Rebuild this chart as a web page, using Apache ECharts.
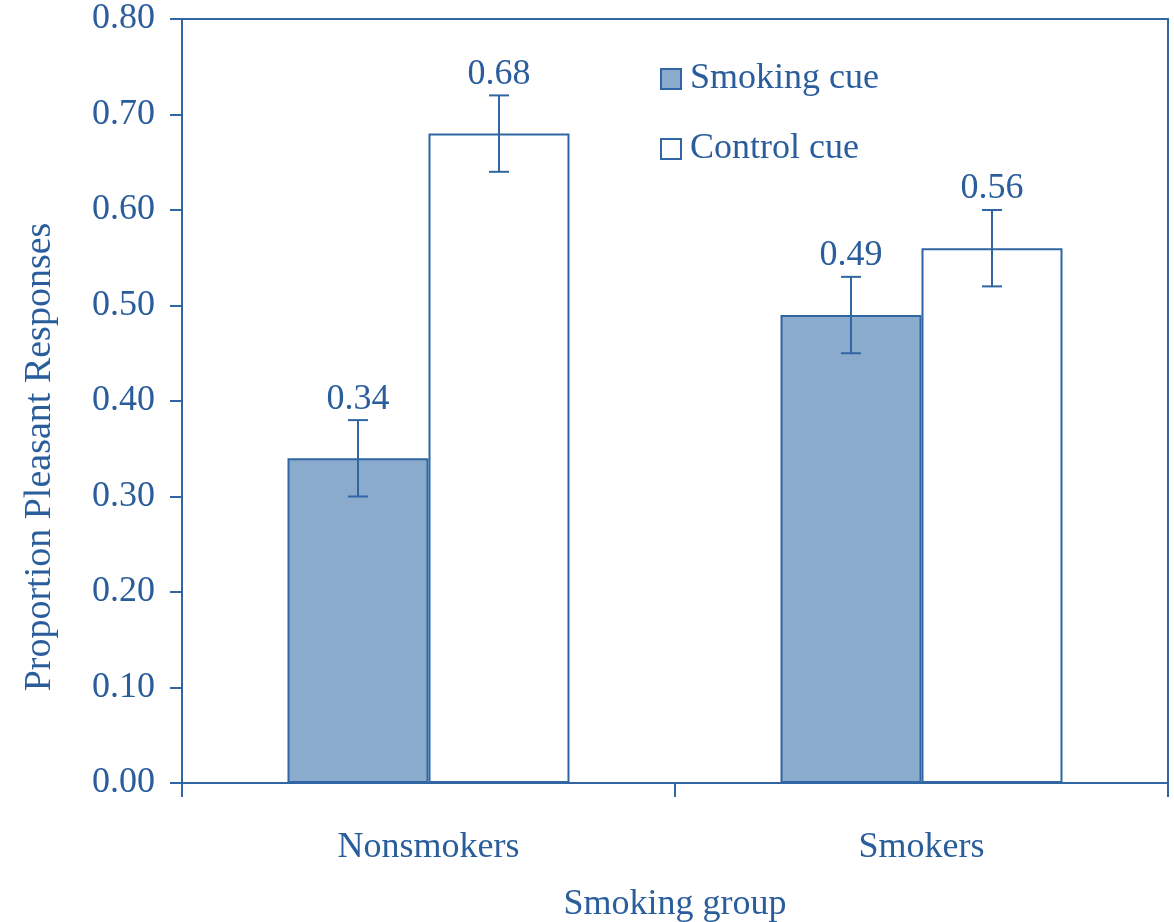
<!DOCTYPE html>
<html><head><meta charset="utf-8">
<script src="https://cdn.jsdelivr.net/npm/echarts@6/dist/echarts.min.js"></script>
<style>html,body{margin:0;padding:0;background:#fff}#c{width:1174px;height:922px}</style>
</head><body><div id="c"></div>
<script>
// ---- data ----
const categories = ['Nonsmokers', 'Smokers'];
const seriesNames = ['Smoking cue', 'Control cue'];
const smokingCue = [0.34, 0.49];
const controlCue = [0.68, 0.56];
const smokingErr = [0.04, 0.04];
const controlErr = [0.04, 0.04];
const yAxisTitle = 'Proportion Pleasant Responses';
const xAxisTitle = 'Smoking group';

// ---- style ----
const TXT = '#2a5d9c';
const LINE = '#2f66a3';
const FILL = '#8aabcb';
const FONT = '"Liberation Serif", "Times New Roman", serif';
const FS = 36;
const BAR_FRAC = 0.286;

function errData(vals, errs) {
  return vals.map((v, i) => [i, v, errs[i]]);
}
function errRenderer(side) {
  return function (params, api) {
    const ci = api.value(0), v = api.value(1), e = api.value(2);
    const band = api.size([1, 0])[0];
    const bw = band * BAR_FRAC;
    const x = api.coord([ci, v])[0] + side * bw / 2;
    const yt = api.coord([ci, v + e])[1];
    const yb = api.coord([ci, v - e])[1];
    const cap = 10;
    const ls = { stroke: LINE, lineWidth: 2 };
    return {
      type: 'group',
      children: [
        { type: 'line', shape: { x1: x, y1: yt, x2: x, y2: yb }, style: ls },
        { type: 'line', shape: { x1: x - cap, y1: yt, x2: x + cap, y2: yt }, style: ls },
        { type: 'line', shape: { x1: x - cap, y1: yb, x2: x + cap, y2: yb }, style: ls },
        { type: 'text', style: { text: v.toFixed(2), x: x, y: yt - 21, align: 'center', verticalAlign: 'middle',
          fill: TXT, fontSize: FS, fontFamily: FONT } }
      ]
    };
  };
}

const chart = echarts.init(document.getElementById('c'));
chart.setOption({
  animation: false,
  backgroundColor: '#fff',
  textStyle: { fontFamily: FONT, color: TXT },
  grid: { left: 182, right: 6, top: 19, bottom: 139, containLabel: false, outerBoundsMode: 'none',
    show: true, borderColor: LINE, borderWidth: 2, backgroundColor: 'transparent' },
  legend: {
    orient: 'vertical', left: 655, top: 56, itemWidth: 20, itemHeight: 20, itemGap: 34,
    textStyle: { fontFamily: FONT, fontSize: FS, color: TXT, padding: [0, 0, 0, 4] },
    data: [
      { name: seriesNames[0], icon: 'rect', itemStyle: { color: FILL, borderColor: LINE, borderWidth: 2 } },
      { name: seriesNames[1], icon: 'rect', itemStyle: { color: '#fff', borderColor: LINE, borderWidth: 2 } }
    ]
  },
  graphic: [{
    type: 'text', x: 40, y: 457, rotation: Math.PI / 2,
    style: { text: yAxisTitle, align: 'center', verticalAlign: 'middle', fill: TXT, fontSize: 38, fontFamily: FONT }
  }],
  xAxis: {
    type: 'category', data: categories,
    name: xAxisTitle, nameLocation: 'middle', nameGap: 104,
    nameTextStyle: { fontFamily: FONT, fontSize: FS, color: TXT },
    axisLine: { lineStyle: { color: LINE, width: 2 } },
    axisTick: { show: true, length: 14, lineStyle: { color: LINE, width: 2 } },
    axisLabel: { margin: 47, fontFamily: FONT, fontSize: FS, color: TXT }
  },
  yAxis: {
    type: 'value', min: 0, max: 0.8, interval: 0.1,
    axisLine: { show: true, lineStyle: { color: LINE, width: 2 } },
    axisTick: { show: true, length: 12, lineStyle: { color: LINE, width: 2 } },
    splitLine: { show: false },
    axisLabel: { margin: 27, fontFamily: FONT, fontSize: FS, color: TXT, formatter: v => v.toFixed(2) }
  },
  series: [
    { name: seriesNames[0], type: 'bar', data: smokingCue, barWidth: (BAR_FRAC * 100) + '%', barGap: '0%',
      itemStyle: { color: FILL, borderColor: LINE, borderWidth: 2 } },
    { name: seriesNames[1], type: 'bar', data: controlCue, barWidth: (BAR_FRAC * 100) + '%', barGap: '0%',
      itemStyle: { color: '#fff', borderColor: LINE, borderWidth: 2 } },
    { type: 'custom', name: 'err0', data: errData(smokingCue, smokingErr), encode: { x: 0, y: 1 }, z: 5,
      renderItem: errRenderer(-1) },
    { type: 'custom', name: 'err1', data: errData(controlCue, controlErr), encode: { x: 0, y: 1 }, z: 5,
      renderItem: errRenderer(1) }
  ]
});
</script>
</body></html>
